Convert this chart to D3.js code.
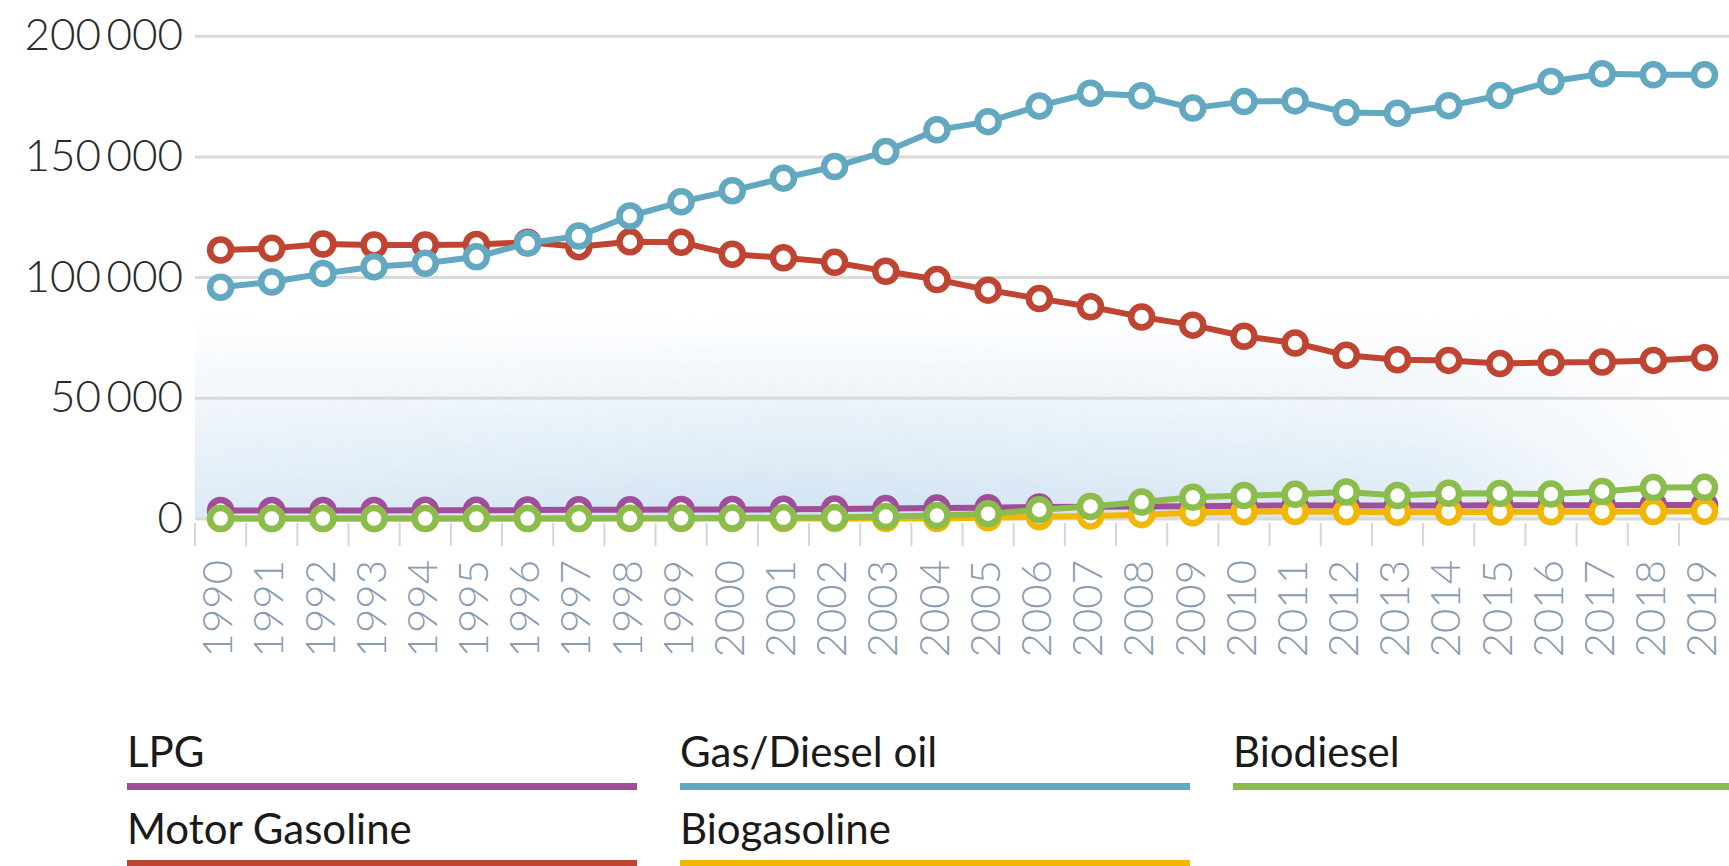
<!DOCTYPE html>
<html>
<head>
<meta charset="utf-8">
<script src="https://cdn.jsdelivr.net/npm/d3@7"></script>
<style>
  body { margin: 0; background: #fff; }
  #chart svg { display: block; }
</style>
</head>
<body>
<div id="chart"></div>
<script>
// Data
const years = d3.range(1990, 2020);
const seriesNames = ["LPG", "Motor Gasoline", "Gas/Diesel oil", "Biogasoline", "Biodiesel"];
const seriesColors = ["#a04d9a", "#bf4431", "#62a8c1", "#f2b705", "#8bbd4c"];

const lpg = [3300, 3300, 3300, 3300, 3400, 3400, 3500, 3600, 3600, 3700, 3700, 3800, 3900, 4100, 4300,
  4500, 4800, 4900, 5000, 5100, 5300, 5400, 5400, 5400, 5400, 5500, 5500, 5500, 5600, 5600];
const motorGasoline = [111200, 111900, 113700, 113300, 113300, 113500, 114400, 112600, 114600, 114400,
  109500, 108000, 106100, 102400, 99000, 94600, 91100, 87700, 83500, 80100,
  75500, 72700, 67600, 65800, 65500, 64200, 64600, 64800, 65500, 66600];
const gasDiesel = [95800, 98000, 101500, 104300, 105700, 108400, 114000, 117000, 125300, 131200,
  135800, 141000, 145800, 152000, 161000, 164400, 170900, 176200, 175100, 170000,
  172700, 173000, 168200, 167900, 171000, 175200, 181000, 184200, 183800, 183800];
const biogasoline = [0, 0, 0, 0, 0, 0, 0, 0, 0, 0, 0, 0, 0, 0, 0,
  300, 700, 1000, 1600, 2400, 2800, 2900, 2800, 2600, 2700, 2700, 2800, 2800, 2900, 3000];
const biodiesel = [0, 0, 0, 0, 0, 0, 0, 0, 100, 100, 200, 300, 400, 800, 1200,
  2000, 3600, 5000, 6800, 8800, 9500, 10000, 11000, 9500, 10500, 10400, 10100, 11200, 12800, 12900];

const yTicks = [0, 50000, 100000, 150000, 200000];

const seriesValues = [lpg, motorGasoline, gasDiesel, biogasoline, biodiesel];
const series = seriesNames.map((name, i) => ({
  name: name,
  color: seriesColors[i],
  values: years.map((yr, j) => ({year: yr, value: seriesValues[i][j]}))
}));

// SVG
const W = 1729, H = 866;
const svg = d3.select("#chart")
  .append("svg")
  .attr("width", W)
  .attr("height", H);

// Scales
const x = d3.scaleBand()
  .domain(years)
  .range([195, 195 + 30 * 51.17]);
const y = d3.scaleLinear()
  .domain([0, 200000])
  .range([518.5, 35.7]);

// soft blue glow behind the lower part of the plot
const defs = svg.append("defs");
const vg = defs.append("linearGradient")
  .attr("id", "glowV").attr("x1", 0).attr("y1", 0).attr("x2", 0).attr("y2", 1);
vg.append("stop").attr("offset", "0%").attr("stop-color", "#e4eef7").attr("stop-opacity", 0);
vg.append("stop").attr("offset", "45%").attr("stop-color", "#e2edf7").attr("stop-opacity", 0.7);
vg.append("stop").attr("offset", "100%").attr("stop-color", "#cfe2f1").attr("stop-opacity", 1);
const hg = defs.append("linearGradient")
  .attr("id", "glowH").attr("x1", 0).attr("y1", 0).attr("x2", 1).attr("y2", 0);
hg.append("stop").attr("offset", "0%").attr("stop-color", "#fff").attr("stop-opacity", 0.75);
hg.append("stop").attr("offset", "40%").attr("stop-color", "#fff").attr("stop-opacity", 1);
hg.append("stop").attr("offset", "80%").attr("stop-color", "#fff").attr("stop-opacity", 0.8);
hg.append("stop").attr("offset", "100%").attr("stop-color", "#fff").attr("stop-opacity", 0);
defs.append("mask").attr("id", "glowMask")
  .append("rect")
  .attr("x", x.range()[0]).attr("y", y(85000))
  .attr("width", x.range()[1] - x.range()[0]).attr("height", y(0) - y(85000))
  .attr("fill", "url(#glowH)");

svg.append("rect")
  .attr("x", x.range()[0])
  .attr("y", y(85000))
  .attr("width", x.range()[1] - x.range()[0])
  .attr("height", y(0) - y(85000))
  .attr("fill", "url(#glowV)")
  .attr("mask", "url(#glowMask)");

// Gridlines + y labels
const yAxis = svg.append("g")
  .attr("transform", `translate(${x.range()[0]},0)`)
  .call(d3.axisLeft(y)
    .tickValues(yTicks)
    .tickSize(-(W - x.range()[0]))
    .tickPadding(12)
    .tickFormat(d => d3.format(",")(d).replace(/,/g, "\u2009")));
yAxis.select(".domain").remove();
yAxis.selectAll(".tick line")
  .attr("stroke", "#d9d9d9")
  .attr("stroke-width", 3);
yAxis.selectAll(".tick text")
  .attr("fill", "#2a2a2a")
  .style("font-family", "Lato, 'Open Sans', sans-serif")
  .style("font-weight", 300)
  .style("font-size", "44px");

// x ticks at band edges
svg.append("g")
  .selectAll("line")
  .data(years.concat([2020]))
  .join("line")
  .attr("x1", d => d === 2020 ? x.range()[1] : x(d))
  .attr("x2", d => d === 2020 ? x.range()[1] : x(d))
  .attr("y1", 523)
  .attr("y2", 546)
  .attr("stroke", "#d6d6d6")
  .attr("stroke-width", 2);

// x labels, rotated
svg.append("g")
  .selectAll("text")
  .data(years)
  .join("text")
  .attr("transform", d => `translate(${x(d) + x.bandwidth() / 2 - 3},560) rotate(-90)`)
  .attr("text-anchor", "end")
  .attr("dy", "0.35em")
  .attr("fill", "#8a9cb2")
  .style("font-family", "Lato, 'Open Sans', sans-serif")
  .style("font-weight", 300)
  .style("font-size", "42px")
  .text(d => d);

// Lines and markers
const line = d3.line()
  .x(d => x(d.year) + x.bandwidth() / 2)
  .y(d => y(d.value));

const sg = svg.append("g")
  .selectAll("g")
  .data(series)
  .join("g");

sg.append("path")
  .attr("d", d => line(d.values))
  .attr("fill", "none")
  .attr("stroke", d => d.color)
  .attr("stroke-width", 6)
  .attr("stroke-linejoin", "round");

sg.selectAll("circle")
  .data(d => d.values.map(v => Object.assign({color: d.color}, v)))
  .join("circle")
  .attr("cx", d => x(d.year) + x.bandwidth() / 2)
  .attr("cy", d => y(d.value))
  .attr("r", 10.5)
  .attr("fill", "#fff")
  .attr("stroke", d => d.color)
  .attr("stroke-width", 6.5);

// Legend: 3 columns, filled top to bottom
const legend = svg.append("g")
  .selectAll("g")
  .data(series)
  .join("g")
  .attr("transform", (d, i) => `translate(${127 + Math.floor(i / 2) * 553},${767 + (i % 2) * 77})`);

legend.append("text")
  .attr("fill", "#1a1a1a")
  .style("font-family", "Lato, 'Open Sans', sans-serif")
  .style("font-size", "42px")
  .text(d => d.name);

legend.append("rect")
  .attr("x", 0)
  .attr("y", 16)
  .attr("width", 510)
  .attr("height", 7)
  .attr("fill", d => d.color);
</script>
</body>
</html>
